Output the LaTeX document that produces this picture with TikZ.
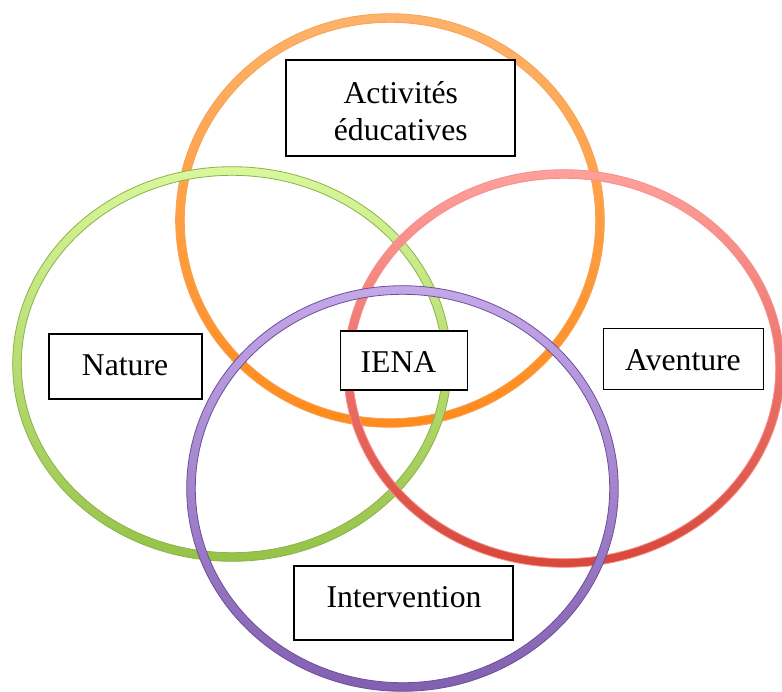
\documentclass[tikz,border=0pt]{standalone}
\usepackage{fontspec}
\setmainfont{Liberation Serif}
\begin{document}
% One unit = 1pt, y axis pointing down.
\begin{tikzpicture}[x=1pt,y=-1pt]
\tikzset{
  frame/.style={draw=black, line width=1.6pt, fill=white, inner sep=0pt},
  lbl/.style={font=\fontsize{31.7}{36.7}\selectfont, inner sep=0pt, align=center},
}
\useasboundingbox (0,0) rectangle (782,691);
\fill[white] (0,0) rectangle (782,691);

% ring: centre x, centre y, x radius, y radius, top colour, bottom colour, edge colour
\newcommand{\vennring}[7]{%
  \pgfmathsetmacro{\rxo}{#3+4.3}\pgfmathsetmacro{\ryo}{#4+4.3}%
  \pgfmathsetmacro{\rxi}{#3-4.3}\pgfmathsetmacro{\ryi}{#4-4.3}%
  \shade[even odd rule, top color=#5, bottom color=#6]
    (#1,#2) ellipse [x radius=\rxo pt, y radius=\ryo pt]
    (#1,#2) ellipse [x radius=\rxi pt, y radius=\ryi pt];
  \draw[#7, line width=0.8pt]
    (#1,#2) ellipse [x radius=\rxo pt, y radius=\ryo pt]
    (#1,#2) ellipse [x radius=\rxi pt, y radius=\ryi pt];
}

\definecolor{orTop}{HTML}{FDB36B}\definecolor{orBot}{HTML}{FF8A1C}\definecolor{orEdge}{HTML}{F5973F}
\definecolor{grTop}{HTML}{D9F79C}\definecolor{grBot}{HTML}{96C248}\definecolor{grEdge}{HTML}{8AB348}
\definecolor{rdTop}{HTML}{FFA09C}\definecolor{rdBot}{HTML}{D8473A}\definecolor{rdEdge}{HTML}{E06A60}
\definecolor{puTop}{HTML}{C4A8E8}\definecolor{puBot}{HTML}{8260B0}\definecolor{puEdge}{HTML}{6C4E9A}

\vennring{390}{220.5}{210}{202.5}{orTop}{orBot}{orEdge!60!orTop}
\vennring{232}{364}{215}{193}{grTop}{grBot}{grEdge}
\vennring{564}{368.5}{216}{194.5}{rdTop}{rdBot}{rdEdge!30!rdTop}
\vennring{402.5}{488.5}{211.5}{198.5}{puTop}{puBot}{puEdge}

% boxes
\node[frame, minimum width=229, minimum height=96] (act) at (400.5,108) {};
\node[frame, minimum width=153, minimum height=65] (nat) at (125.7,366.2) {};
\node[frame, minimum width=127, minimum height=59] (iena) at (404,360.5) {};
\node[frame, minimum width=160, minimum height=61] (av) at (683.3,358.8) {};
\node[frame, minimum width=219, minimum height=74] (int) at (403.7,603) {};

% labels
\node[lbl, anchor=base] (actA) at (400.8,103.3) {Activités};
\node[lbl, anchor=base] (actB) at (400.8,140) {éducatives};
\node[lbl, anchor=base] (natL) at (125,375) {Nature};
\node[lbl, anchor=base] (ienaL) at (398.5,372.3) {IENA};
\node[lbl, anchor=base] (avL) at (683,370) {Aventure};
\node[lbl, anchor=base] (intL) at (404,607.7) {Intervention};
\end{tikzpicture}
\end{document}
